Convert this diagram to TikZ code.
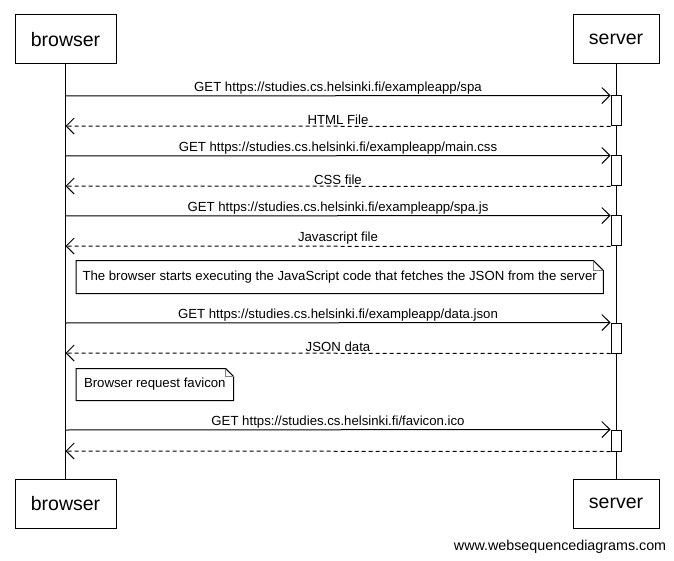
\documentclass[tikz,border=0pt]{standalone}
\usepackage{fontspec}
\setmainfont{Liberation Sans}
\usepackage{tikz}
\usetikzlibrary{arrows.meta,positioning}
\tikzset{
  actor/.style={draw,minimum height=49pt,font=\fontsize{19.5}{22}\selectfont},
  act/.style={draw,fill=white,minimum width=10pt,inner sep=0pt},
  msg/.style={-{Straight Barb[length=8pt,width=16pt]}},
  reply/.style={msg,dash pattern=on 4pt off 3pt},
  txt/.style={above=0.5pt,inner sep=1pt,font=\fontsize{13.2}{15}\selectfont},
  note/.style={anchor=west,minimum height=32pt,inner xsep=6.5pt,font=\fontsize{13.2}{15}\selectfont}
}

\begin{document}
\begin{tikzpicture}[x=1pt,y=-1pt,line width=1pt]
\useasboundingbox (0,0) rectangle (674,561);
\node (browser)[actor,minimum width=101pt] at (65.5,39.5){browser};
\node (server)[actor,minimum width=86pt] at (616,39.5){server};
\node (browserB)[actor,minimum width=101pt,below=414pt of browser]{browser};
\node (serverB)[actor,minimum width=86pt,below=414pt of server]{server};

% lifelines
\draw (browser) -- (browserB);
\draw (server) -- (serverB);

% points on the browser line
\coordinate (b1) at (65.5,96);
\coordinate (b2) at (65.5,126);
\coordinate (b3) at (65.5,156);
\coordinate (b4) at (65.5,186);
\coordinate (b5) at (65.5,216);
\coordinate (b6) at (65.5,246);
\coordinate (b7) at (65.5,323);
\coordinate (b8) at (65.5,353);
\coordinate (b9) at (65.5,430);
\coordinate (b10) at (65.5,451);

% activations on the server line
\node (a1)[act,minimum height=30pt] at (616,111){};
\node (a2)[act,minimum height=30pt] at (616,171){};
\node (a3)[act,minimum height=30pt] at (616,231){};
\node (a4)[act,minimum height=30pt] at (616,338){};
\node (a5)[act,minimum height=21pt] at (616,440.5){};

% draw the messages
\draw[msg] (b1) -- node[txt]{GET https://studies.cs.helsinki.fi/exampleapp/spa} (a1.north west);
\draw[reply] (a1.south west) -- node[txt]{HTML File} (b2);
\draw[msg] (b3) -- node[txt]{GET https://studies.cs.helsinki.fi/exampleapp/main.css} (a2.north west);
\draw[reply] (a2.south west) -- node[txt]{CSS file} (b4);
\draw[msg] (b5) -- node[txt]{GET https://studies.cs.helsinki.fi/exampleapp/spa.js} (a3.north west);
\draw[reply] (a3.south west) -- node[txt]{Javascript file} (b6);
\draw[msg] (b7) -- node[txt]{GET https://studies.cs.helsinki.fi/exampleapp/data.json} (a4.north west);
\draw[reply] (a4.south west) -- node[txt]{JSON data} (b8);
\draw[msg] (b9) -- node[txt]{GET https://studies.cs.helsinki.fi/favicon.ico} (a5.north west);
\draw[reply] (a5.south west) -- (b10);

% notes
\node (note1)[note,inner xsep=6pt] at (76,277){The browser starts executing the JavaScript code that fetches the JSON from the server};
\draw (note1.north west) -- ([xshift=-10pt]note1.north east) -- ([yshift=-10pt]note1.north east) -- (note1.south east) -- (note1.south west) -- cycle;
\draw[gray] ([xshift=-10pt]note1.north east) |- ([yshift=-10pt]note1.north east);

\node (note2)[note,minimum height=31pt,inner xsep=7.5pt] at (76,384.5){Browser request favicon};
\draw (note2.north west) -- ([xshift=-8pt]note2.north east) -- ([yshift=-8pt]note2.north east) -- (note2.south east) -- (note2.south west) -- cycle;
\draw[gray] ([xshift=-8pt]note2.north east) |- ([yshift=-8pt]note2.north east);

\node (credit)[anchor=east,font=\fontsize{14.3}{16}\selectfont] at (670,546.5){www.websequencediagrams.com};
\end{tikzpicture}
\end{document}
